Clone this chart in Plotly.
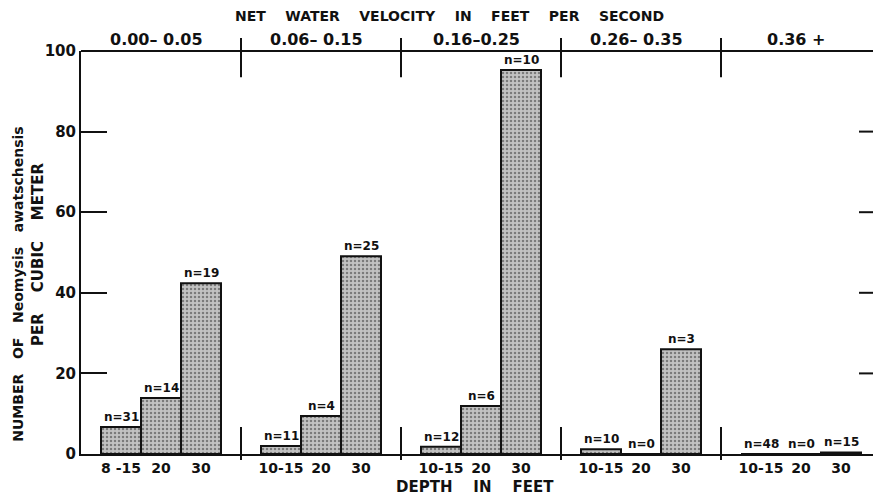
import plotly.graph_objects as go

# ---- data ----
velocity_groups = ["0.00\u2013 0.05", "0.06\u2013 0.15", "0.16\u20130.25", "0.26\u2013 0.35", "0.36 +"]
depth_labels = [
    ["8 -15", "20", "30"],
    ["10-15", "20", "30"],
    ["10-15", "20", "30"],
    ["10-15", "20", "30"],
    ["10-15", "20", "30"],
]
density = [
    [6.7, 13.9, 42.4],
    [2.0, 9.4, 49.1],
    [1.8, 11.9, 95.3],
    [1.2, 0.0, 26.0],
    [0.0, 0.0, 0.4],
]
n_samples = [
    [31, 14, 19],
    [11, 4, 25],
    [12, 6, 10],
    [10, 0, 3],
    [48, 0, 15],
]
y_ticks = [0, 20, 40, 60, 80, 100]

FONT = "DejaVu Sans"
INK = "#111111"
NB = "\u00a0"

xs, ys, labels, ns = [], [], [], []
for g in range(len(velocity_groups)):
    for d in range(3):
        xs.append(4 * g + d + 1)
        ys.append(density[g][d])
        labels.append(depth_labels[g][d])
        ns.append(n_samples[g][d])

fig = go.Figure()
fig.add_trace(go.Bar(
    x=xs, y=ys, width=1,
    marker=dict(
        color="#b8b8b8",
        line=dict(color=INK, width=2),
        pattern=dict(shape=".", fgcolor="#333333", bgcolor="#c2c2c2", size=4, solidity=0.3),
    ),
    hoverinfo="skip",
))

annotations = []
for x, y, n in zip(xs, ys, ns):
    annotations.append(dict(
        x=x, y=y, xref="x", yref="y", text=f"n={n}", showarrow=False,
        xanchor="center", yanchor="bottom", yshift=1,
        font=dict(family=FONT, size=12, color=INK, weight="bold"),
    ))

ngroups = len(velocity_groups)
for g, name in enumerate(velocity_groups):
    annotations.append(dict(
        x=(g + 0.5) / ngroups, y=1.0, xref="paper", yref="paper", text=name,
        showarrow=False, xanchor="center", yanchor="middle", yshift=12, xshift=-5,
        font=dict(family=FONT, size=16, color=INK, weight="bold"),
    ))

def spaced(words, k):
    return (NB * k).join(words)

annotations += [
    dict(x=0.46, y=1.0, xref="paper", yref="paper",
         text=spaced(["NET", "WATER", "VELOCITY", "IN", "FEET", "PER", "SECOND"], 4),
         showarrow=False, xanchor="center", yanchor="middle", yshift=35,
         font=dict(family=FONT, size=14, color=INK, weight="bold")),
    dict(x=0.492, y=0.0, xref="paper", yref="paper",
         text=spaced(["DEPTH", "IN", "FEET"], 4),
         showarrow=False, xanchor="center", yanchor="middle", yshift=-33,
         font=dict(family=FONT, size=15, color=INK, weight="bold")),
    dict(x=0.0, y=0.42, xref="paper", yref="paper",
         text=spaced(["NUMBER", "OF", "Neomysis", "awatschensis"], 3),
         showarrow=False, textangle=-90, xanchor="center", yanchor="middle", xshift=-63,
         font=dict(family=FONT, size=14, color=INK, weight="bold")),
    dict(x=0.0, y=0.494, xref="paper", yref="paper",
         text=spaced(["PER", "CUBIC", "METER"], 4),
         showarrow=False, textangle=-90, xanchor="center", yanchor="middle", xshift=-43,
         font=dict(family=FONT, size=15, color=INK, weight="bold")),
]

shapes = []
shapes.append(dict(type="line", xref="paper", yref="paper", x0=0, x1=1, y0=1, y1=1,
                   line=dict(color=INK, width=2)))
for g in range(1, ngroups):
    xp = g / ngroups
    shapes.append(dict(type="line", xref="paper", yref="paper", x0=xp, x1=xp, y0=0.935, y1=1.032,
                       line=dict(color=INK, width=2)))
    shapes.append(dict(type="line", xref="paper", yref="paper", x0=xp, x1=xp, y0=-0.015, y1=0.067,
                       line=dict(color=INK, width=2)))
for t in y_ticks[1:-1]:
    shapes.append(dict(type="line", xref="paper", yref="y", x0=0.9725, x1=1.0, y0=t, y1=t,
                       line=dict(color=INK, width=2)))

# page body has an 8px margin: size the figure so the plot area lands at 81..881 x 51..454
fig.update_layout(
    width=873, height=489,
    margin=dict(l=73, r=0, t=43, b=43),
    paper_bgcolor="white", plot_bgcolor="white",
    showlegend=False,
    annotations=annotations,
    shapes=shapes,
    font=dict(family=FONT, color=INK),
)
fig.update_xaxes(
    range=[0, 20], tickmode="array", tickvals=xs, ticktext=labels,
    showline=True, linecolor=INK, linewidth=2, ticks="", showgrid=False, zeroline=False,
    tickfont=dict(family=FONT, size=14, color=INK, weight="bold"), fixedrange=True,
)
fig.update_yaxes(
    range=[0, 100], tickmode="array", tickvals=y_ticks, ticktext=[str(t) for t in y_ticks],
    showline=True, linecolor=INK, linewidth=2, ticks="inside", ticklen=26, tickwidth=2,
    tickcolor=INK, showgrid=False, zeroline=False,
    tickfont=dict(family=FONT, size=15, color=INK, weight="bold"), fixedrange=True,
)

fig.write_html("out.html")
